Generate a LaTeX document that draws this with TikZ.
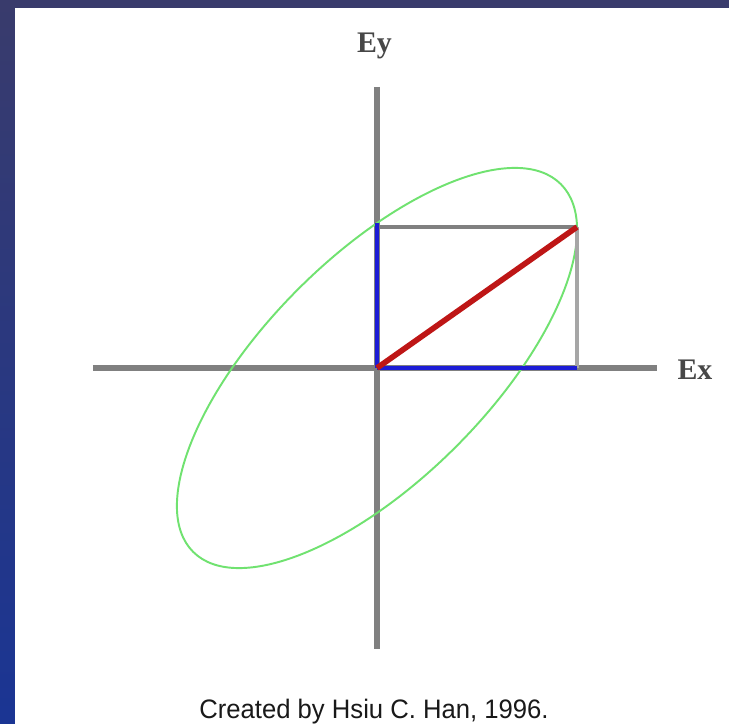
\documentclass[tikz,border=0pt]{standalone}
\usepackage{fontspec}
\newfontfamily\axisfont{Liberation Serif}
\newfontfamily\creditfont{Liberation Sans}
\usetikzlibrary{positioning}
\definecolor{slidetop}{RGB}{57,59,108}
\definecolor{slidebot}{RGB}{26,53,148}
\definecolor{axisgray}{RGB}{128,128,128}
\definecolor{ellgreen}{RGB}{112,226,112}
\definecolor{vecred}{RGB}{190,22,22}
\definecolor{compblue}{RGB}{28,28,214}

\begin{document}
\begin{tikzpicture}[
    axis/.style={draw=axisgray, line width=3.1pt},
    guide/.style={draw=axisgray, line width=2.1pt},
    comp/.style={draw=compblue, line width=2.8pt},
    axlabel/.style={font=\axisfont\bfseries\fontsize{17}{20}\selectfont, text=black!72, inner sep=0pt}
]
                \useasboundingbox (-7.54,-7.10) rectangle (7.04,7.36);
                \shade[top color=slidetop, bottom color=slidebot] (-7.54,-7.30) rectangle (7.04,7.36);
                \fill[white] (-7.24,-7.30) rectangle (7.24,7.20);
                \coordinate (O) at (0,0);
                \coordinate (P) at (4,2.82);
                \coordinate (xl) at (-5.68,0);
                \coordinate (xr) at (5.60,0);
                \coordinate (yt) at (0,5.62);
                \coordinate (yb) at (0,-5.62);
                \draw[axis] (xl) -- (xr);
                \draw[axis] (yt) -- (yb);
                \draw[ellgreen, line width=1.1pt, rotate=45] (O) ellipse (5.2 and 2.23);
                \draw[guide] (0,2.82) -- (P);
                \draw[guide, draw=axisgray!70] (P) -- (4,0);
                \draw[comp] (O) -- (0,2.9);
                \draw[comp] (O) -- (4,0);
                \draw[vecred, line width=3.2pt] (O) -- (P);
                \node[axlabel] (ex) at (6.36,-0.04) {Ex};
                \node[axlabel] (ey) at (-0.05,6.45) {Ey};
                \node[font=\creditfont\fontsize{15.2}{18}\selectfont, xscale=0.96, text=black!90, anchor=base] (credit) at (-0.06,-7.0) {Created by Hsiu C. Han, 1996.};
\end{tikzpicture}
\end{document}
